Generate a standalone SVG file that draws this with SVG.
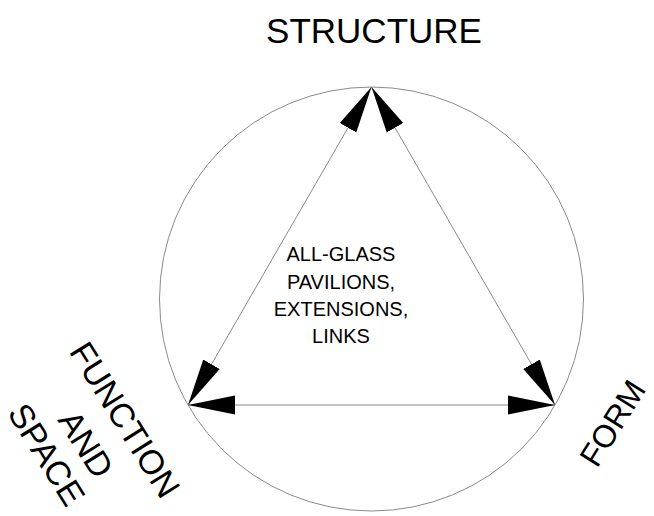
<svg xmlns="http://www.w3.org/2000/svg" width="654" height="516" viewBox="0 0 654 516">
<style>
.lbl{font-family:"Liberation Sans",Arial,sans-serif;font-size:35px;fill:#000}
.rot{font-family:"Liberation Sans",Arial,sans-serif;font-size:34px;fill:#000;text-anchor:middle}
.ctr{font-family:"Liberation Sans",Arial,sans-serif;font-size:20px;fill:#000;text-anchor:middle}
.ln{stroke:#8a8a8a;stroke-width:1;fill:none;marker-start:url(#ah);marker-end:url(#ah)}
</style>
<defs>
<marker id="ah" markerUnits="userSpaceOnUse" viewBox="0 -10 48 20" markerWidth="48" markerHeight="20" refX="47" refY="0" orient="auto-start-reverse">
<path d="M0,-9.5 L47,0 L0,9.5 z" fill="#000"/>
</marker>
</defs>
<rect width="654" height="516" fill="#fff"/>
<circle cx="371.5" cy="299" r="212" fill="none" stroke="#8a8a8a" stroke-width="1"/>
<g id="connectors">
<line class="ln" x1="188" y1="405" x2="371.5" y2="87"/>
<line class="ln" x1="555" y1="405" x2="371.5" y2="87"/>
<line class="ln" x1="188" y1="405" x2="555" y2="405"/>
</g>
<g id="structure"><text class="lbl" x="374" y="43" text-anchor="middle">STRUCTURE</text></g>
<g id="center">
<text class="ctr" x="341" y="261">ALL-GLASS</text>
<text class="ctr" x="341" y="289">PAVILIONS,</text>
<text class="ctr" x="341" y="316">EXTENSIONS,</text>
<text class="ctr" x="341" y="343">LINKS</text>
</g>
<g id="function-space" transform="translate(115,426) rotate(58)">
<text class="rot" x="0" y="0">FUNCTION</text>
<text class="rot" x="0" y="46">AND</text>
<text class="rot" x="-12" y="85">SPACE</text>
</g>
<g id="form"><text class="lbl" style="font-size:32px" transform="translate(597,469) rotate(-58)">FORM</text></g>
</svg>
